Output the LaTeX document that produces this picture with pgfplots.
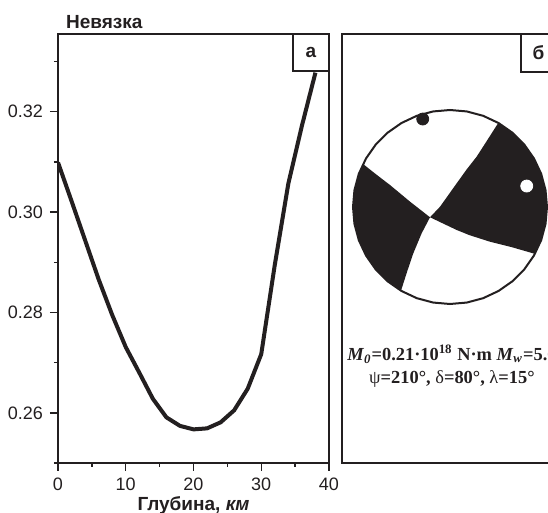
\documentclass[border=0pt]{standalone}
\usepackage{fontspec}
\setmainfont{Liberation Sans}
\newfontfamily\timesfont{Liberation Serif}
\usepackage{pgfplots}
\usepackage{pgfplotstable}
\pgfplotsset{compat=1.18}
\definecolor{ink}{RGB}{35,31,32}

% misfit vs. depth
\pgfplotstableread{
x y
0 0.3099
2 0.3022
4 0.2944
6 0.2866
8 0.2795
10 0.2731
12 0.2680
14 0.2628
16 0.2591
18 0.2574
20 0.2567
22 0.2569
24 0.2581
26 0.2605
28 0.2648
30 0.2717
32 0.2895
34 0.3057
36 0.3172
38 0.3278
}\misfit

\begin{document}
\begin{tikzpicture}[x=1pt,y=1pt]
\useasboundingbox (0,0) rectangle (274,256.5);
\clip (0,0) rectangle (274,256.5);

\begin{axis}[
  at={(29pt,25pt)}, anchor=south west,
  scale only axis, width=135.5pt, height=214.5pt,
  xmin=0, xmax=40, ymin=0.25, ymax=0.3355,
  xtick={0,10,20,30,40}, minor xtick={5,15,25,35},
  ytick={0.26,0.28,0.30,0.32}, minor ytick={0.25,0.27,0.29,0.31,0.33},
  scaled y ticks=false,
  yticklabel style={/pgf/number format/fixed, /pgf/number format/precision=2,
    /pgf/number format/fixed zerofill},
  /pgf/number format/assume math mode=true,
  tick align=outside, tick pos=left,
  major tick length=4pt, minor tick length=2pt,
  every tick/.style={ink, line width=0.7pt},
  axis line style={line width=1.4pt, ink},
  ticklabel style={font=\fontsize{9}{10}\selectfont, ink},
  xlabel={\textbf{Глубина, \textit{км}}},
  xlabel style={font=\fontsize{9.5}{11}\selectfont, ink, yshift=4pt},
  axis on top,
]
\addplot[ink, line width=2pt] table[x=x, y=y] {\misfit};
\fill[white] (rel axis cs:0.867,0.914) rectangle (rel axis cs:1,1);
\draw[ink, line width=0.7pt] (rel axis cs:0.867,1) |- (rel axis cs:1,0.914);
\node[font=\bfseries\fontsize{9.5}{10}\selectfont, ink] at (rel axis cs:0.933,0.957) {а};
\end{axis}

\node[anchor=base west, font=\bfseries\fontsize{9.5}{10}\selectfont, ink] at (29.5,242.3) {Невязка};

\begin{axis}[
  at={(171pt,25pt)}, anchor=south west,
  scale only axis, width=107pt, height=214.5pt,
  xmin=-1.1134, xmax=1.0928, ymin=-2.639, ymax=1.7835,
  xtick=\empty, ytick=\empty,
  axis line style={line width=1.4pt, ink},
  axis on top,
]
% compressional quadrants
\addplot[fill=ink, draw=none] coordinates {
  (0.498,0.867) (0.643,0.766) (0.766,0.643) (0.866,0.5) (0.940,0.342)
  (0.985,0.174) (1,0) (0.985,-0.174) (0.940,-0.342) (0.875,-0.483)
  (0.640,-0.415) (0.412,-0.358) (0.200,-0.290) (0.069,-0.237) (-0.206,-0.106)
  (-0.103,0.003) (0.069,0.244) (0.170,0.385) (0.275,0.519) (0.385,0.690) (0.498,0.867)
};
\addplot[fill=ink, draw=none] coordinates {
  (-0.896,0.443) (-0.940,0.342) (-0.985,0.174) (-1,0) (-0.985,-0.174)
  (-0.940,-0.342) (-0.866,-0.5) (-0.766,-0.643) (-0.643,-0.766) (-0.505,-0.863)
  (-0.440,-0.660) (-0.378,-0.477) (-0.292,-0.271) (-0.206,-0.106)
  (-0.412,0.055) (-0.619,0.227) (-0.760,0.335) (-0.896,0.443)
};
% focal sphere outline
\addplot[ink, line width=1pt] coordinates {
  (1,0) (0.985,0.174) (0.940,0.342) (0.866,0.5) (0.766,0.643) (0.643,0.766)
  (0.5,0.866) (0.342,0.940) (0.174,0.985) (0,1) (-0.174,0.985) (-0.342,0.940)
  (-0.5,0.866) (-0.643,0.766) (-0.766,0.643) (-0.866,0.5) (-0.940,0.342) (-0.985,0.174)
  (-1,0) (-0.985,-0.174) (-0.940,-0.342) (-0.866,-0.5) (-0.766,-0.643) (-0.643,-0.766)
  (-0.5,-0.866) (-0.342,-0.940) (-0.174,-0.985) (0,-1) (0.174,-0.985) (0.342,-0.940)
  (0.5,-0.866) (0.643,-0.766) (0.766,-0.643) (0.866,-0.5) (0.940,-0.342) (0.985,-0.174)
  (1,0)
};
% P and T axes
\addplot[only marks, mark=*, mark size=3pt, mark options={draw=ink, fill=ink}]
  coordinates {(-0.281,0.907)};
\addplot[only marks, mark=*, mark size=3pt, mark options={draw=white, fill=white}]
  coordinates {(0.791,0.216)};
\fill[white] (rel axis cs:0.8364,0.9114) rectangle (rel axis cs:1,1);
\draw[ink, line width=0.7pt] (rel axis cs:0.8364,1) |- (rel axis cs:1,0.9114);
\node[font=\bfseries\fontsize{9.5}{10}\selectfont, ink] at (rel axis cs:0.918,0.9557) {б};
\node[align=center, ink, font={\timesfont\bfseries\fontsize{9.2}{11.3}\selectfont}]
  at (axis cs:0.02,-1.64)
  {\textit{M}\textsubscript{\textit{0}}=0.21·10\textsuperscript{18} N·m \textit{M}\textsubscript{\textit{w}}=5.6\\
   {\mdseries ψ}=210°, {\mdseries δ}=80°, {\mdseries λ}=15°};
\end{axis}
\end{tikzpicture}
\end{document}
